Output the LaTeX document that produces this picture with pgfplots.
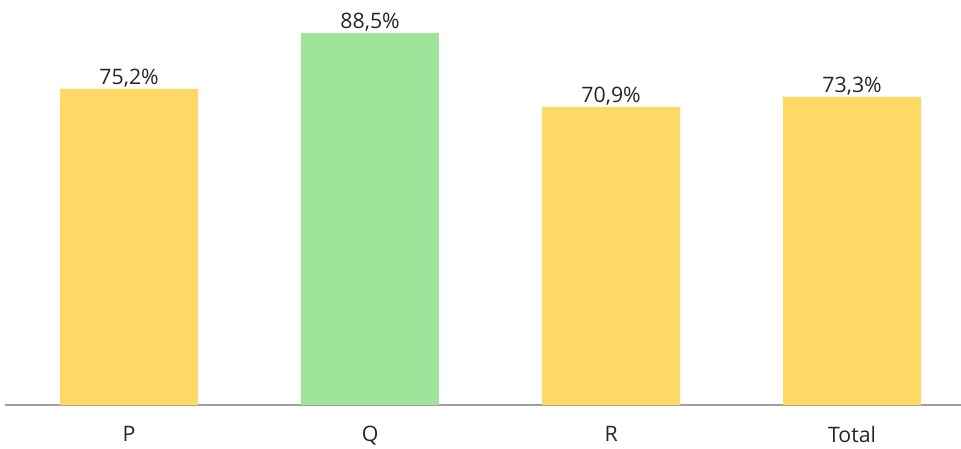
\documentclass[border=0pt]{standalone}
\usepackage{pgfplots}
\pgfplotsset{compat=1.18}
\usepackage{fontspec}
\setmainfont{Open Sans}
\definecolor{barY}{HTML}{FFD966}
\definecolor{barG}{HTML}{9FE49A}
\definecolor{txt}{HTML}{262626}
\definecolor{axl}{HTML}{A0A0A0}
\begin{document}
\begin{tikzpicture}
\begin{axis}[
  scale only axis, width=956pt, height=405pt,
  xmin=-0.515, xmax=3.452, ymin=0, ymax=96.36,
  axis x line=bottom, axis y line=none,
  axis line style={draw=axl, line width=1.3pt, -},
  xtick={0,1,2,3}, xticklabels={P,Q,R,Total},
  major tick length=0pt,
  xticklabel style={font=\fontsize{21.3}{25}\selectfont, text=txt, yshift=-17.5pt},
  ybar, bar width=0.5726, bar shift=0pt,
  /pgf/number format/assume math mode=true,
  nodes near coords={\pgfmathprintnumber[fixed, fixed zerofill, precision=1, use comma]{\pgfplotspointmeta}\%},
  nodes near coords style={font=\fontsize{21.3}{25}\selectfont, text=txt, anchor=south, yshift=-1.5pt},
  clip=false,
]
\addplot[fill=barY, draw=none] coordinates {(0,75.2) (2,70.9) (3,73.3)};
\addplot[fill=barG, draw=none] coordinates {(1,88.5)};
\end{axis}
\pgfresetboundingbox
\path (current axis.south west) ++(-5pt,-43pt) rectangle (current axis.north east);
\end{tikzpicture}
\end{document}
